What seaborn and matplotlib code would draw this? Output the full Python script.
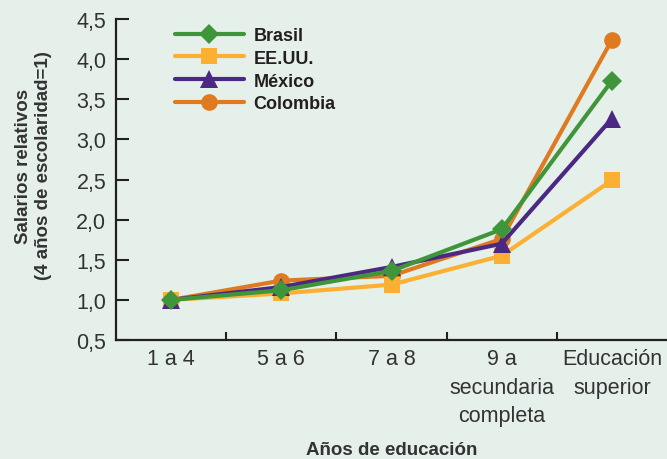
import matplotlib
matplotlib.use('Agg')
import matplotlib.pyplot as plt
import numpy as np
import pandas as pd
import seaborn as sns

# Data
categories = ['1 a 4', '5 a 6', '7 a 8', '9 a\nsecundaria\ncompleta', 'Educación\nsuperior']
brasil = [1.00, 1.12, 1.36, 1.88, 3.73]
eeuu = [1.00, 1.08, 1.19, 1.55, 2.49]
mexico = [1.00, 1.16, 1.41, 1.70, 3.26]
colombia = [1.00, 1.24, 1.30, 1.76, 4.24]
y_ticks = [0.5, 1.0, 1.5, 2.0, 2.5, 3.0, 3.5, 4.0, 4.5]
y_ticklabels = ['0,5', '1,0', '1,5', '2,0', '2,5', '3,0', '3,5', '4,0', '4,5']

bg = '#e6f0ea'
ink = '#231f20'

sns.set_style('ticks')
plt.rcParams['font.family'] = ['Liberation Sans', 'DejaVu Sans']

pos = np.arange(len(categories))
df = pd.DataFrame({'pos': pos, 'Brasil': brasil, 'EE.UU.': eeuu,
                   'México': mexico, 'Colombia': colombia})

fig = plt.figure(figsize=(6.67, 4.60), dpi=100, facecolor=bg)
ax = fig.add_axes([116 / 667, 1 - 341 / 460, 1 - 116 / 667, 321 / 460])
ax.set_facecolor(bg)

styles = [
    ('Brasil', '#3f963a', 'D', 10.5, 5),
    ('EE.UU.', '#fbb034', 's', 11, 3),
    ('México', '#4b2882', '^', 12.5, 4),
    ('Colombia', '#e07a20', 'o', 12, 2),
]
for name, col, mk, ms, z in styles:
    sns.lineplot(data=df, x='pos', y=name, ax=ax, color=col, marker=mk,
                 markersize=ms, markeredgewidth=0, linewidth=3, label=name,
                 zorder=z, clip_on=False)

ax.set_xlim(-0.5, 4.5)
ax.set_ylim(0.5, 4.5)
ax.set_yticks(y_ticks)
ax.set_yticklabels(y_ticklabels)
ax.set_xticks(pos)
ax.set_xticklabels(categories, linespacing=1.45)
ax.set_xticks([0.5, 1.5, 2.5, 3.5], minor=True)

ax.tick_params(axis='y', direction='in', length=9, width=1.5, color=ink,
               labelsize=15.5, labelcolor='#333333', pad=7)
ax.tick_params(axis='x', which='major', length=0, labelsize=15.5,
               labelcolor='#333333', pad=6)
ax.tick_params(axis='x', which='minor', direction='in', length=6, width=1.5,
               color=ink)

for s in ['top', 'right']:
    ax.spines[s].set_visible(False)
for s in ['left', 'bottom']:
    ax.spines[s].set_linewidth(1.6)
    ax.spines[s].set_color(ink)

ax.set_ylabel('Salarios relativos\n(4 años de escolaridad=1)', fontsize=13.5,
              fontweight='bold', color='#333333', va='center', ha='center',
              linespacing=1.25)
ax.yaxis.set_label_coords(-0.15, 0.545)
ax.set_xlabel('Años de educación', fontsize=13.5, fontweight='bold',
              color='#333333', va='baseline')
ax.xaxis.set_label_coords(0.5, (341 - 455) / 321)

leg = ax.legend(loc='upper left', bbox_to_anchor=(175 / 667, 1 - 28 / 460),
                bbox_transform=fig.transFigure, frameon=False, borderpad=0,
                borderaxespad=0, handlelength=3.8, handletextpad=0.56,
                labelspacing=0.32, prop={'size': 13, 'weight': 'bold'})
for t in leg.get_texts():
    t.set_color('#231f20')

fig.savefig('out.png', dpi=100, facecolor=bg)
